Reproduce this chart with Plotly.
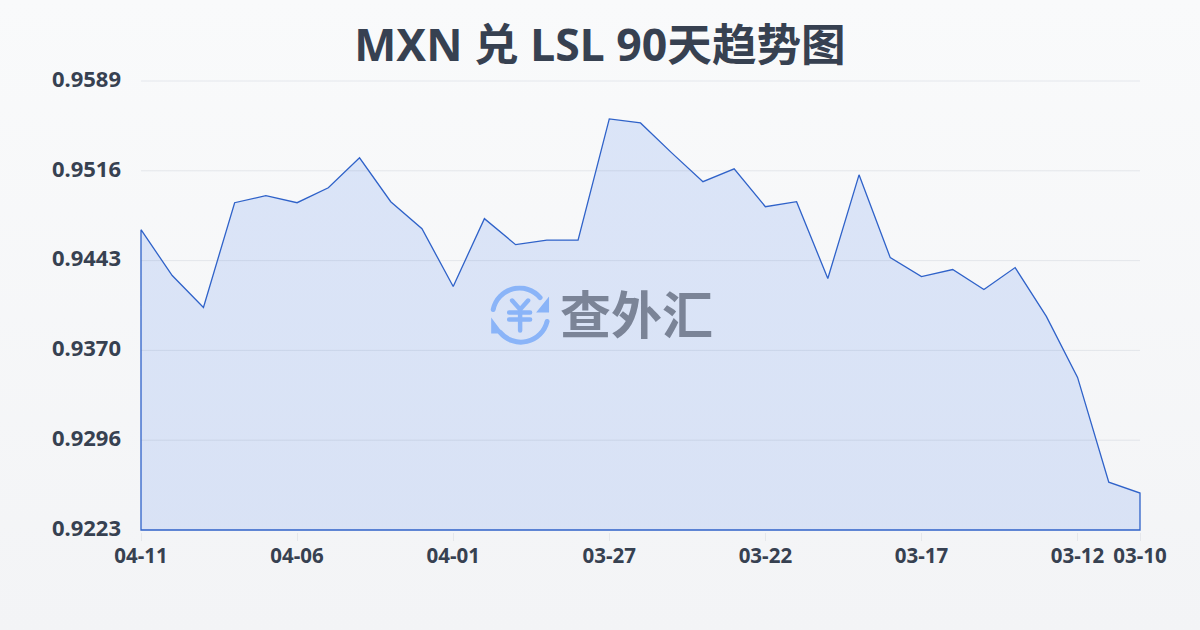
import plotly.graph_objects as go
import urllib.parse

dates = ["04-11","04-10","04-09","04-08","04-07","04-06","04-05","04-04","04-03","04-02","04-01",
         "03-31","03-30","03-29","03-28","03-27","03-26","03-25","03-24","03-23","03-22",
         "03-21","03-20","03-19","03-18","03-17","03-16","03-15","03-14","03-13","03-12","03-11","03-10"]
rates = [0.94678,0.94304,0.94044,0.94898,0.94955,0.94898,0.95020,0.95264,0.94906,0.94686,0.94215,
         0.94768,0.94556,0.94593,0.94593,0.95581,0.95548,0.95304,0.95069,0.95174,0.94865,
         0.94906,0.94280,0.95125,0.94450,0.94296,0.94353,0.94190,0.94369,0.93971,0.93474,0.92620,0.92531]
y_ticks = [0.9223,0.92962,0.93694,0.94426,0.95158,0.9589]
y_labels = ["0.9223","0.9296","0.9370","0.9443","0.9516","0.9589"]
x_labels = ["04-11","04-06","04-01","03-27","03-22","03-17","03-12","03-10"]
title = "MXN 兑 LSL 90天趋势图"
brand = "查外汇"

INK = "#374151"
FONT = "'Noto Sans','Noto Sans CJK SC',sans-serif"
CJK = "'Noto Sans CJK SC',sans-serif"

icon = """<svg xmlns='http://www.w3.org/2000/svg' viewBox='0 0 60 60' width='240' height='240'>
<g fill='none' stroke='#8ab4f8' stroke-width='5' stroke-linecap='round'>
<path d='M3 24 A27 27 0 0 1 50 12'/><path d='M57 36 A27 27 0 0 1 10 47'/>
<path d='M22 15 L30 24 L38 15 M30 24 V45 M19 27 H40 M19 34 H40' stroke-width='4.5'/></g>
<path d='M59 11 V27 H46 Z M1 32 V48 H13 Z' fill='#8ab4f8'/></svg>"""
icon_uri = "data:image/svg+xml," + urllib.parse.quote(icon)

PAD_X = 0.064     # 2 px of slack so the outline is not clipped at the plot edge
PAD_Y = 0.000163  # 2 px of slack

fig = go.Figure()
fig.add_trace(go.Scatter(
    x=list(range(len(dates))) + [len(dates) - 1, 0, 0],
    y=rates + [y_ticks[0], y_ticks[0], rates[0]],
    mode="lines", fill="toself", cliponaxis=False,
    line=dict(color="#2f62c9", width=1.3),
    fillgradient=dict(type="vertical",
                      colorscale=[[0, "rgba(212,223,245,0.85)"], [1, "rgba(214,225,247,0.85)"]]),
    hoverinfo="skip", showlegend=False,
))

fig.update_layout(
    width=1200, height=630,
    paper_bgcolor="rgba(0,0,0,0)", plot_bgcolor="rgba(0,0,0,0)",
    margin=dict(l=138.5, r=57.5, t=78.5, b=97.5),
    font=dict(family=FONT, color=INK),
    title=dict(text="<b>%s</b>" % title, x=0.5, xanchor="center", y=0.928, yanchor="middle",
               font=dict(size=44.6, color=INK, family=FONT)),
    xaxis=dict(range=[-PAD_X, len(dates) - 1 + PAD_X], tickmode="array",
               tickvals=[dates.index(d) for d in x_labels], ticktext=["<b>%s</b>" % d for d in x_labels],
               showgrid=False, zeroline=False, showline=False,
               ticks="outside", ticklen=8, tickcolor="#e5e7eb", tickwidth=1, ticklabelstandoff=-3,
               tickfont=dict(size=20.5, color=INK, family=FONT)),
    yaxis=dict(range=[y_ticks[0] - PAD_Y, y_ticks[-1] + PAD_Y], tickmode="array", tickvals=y_ticks,
               ticktext=["<b>%s</b>" % v for v in y_labels],
               showgrid=False, zeroline=False, showline=False,
               ticks="", ticklabelstandoff=17, ticklabelshift=-2,
               tickfont=dict(size=22, color=INK, family=FONT)),
    shapes=[dict(type="line", xref="x", x0=0, x1=len(dates) - 1, yref="y", y0=v, y1=v, layer="above",
                 line=dict(color="rgba(100,116,139,0.13)", width=1)) for v in y_ticks[1:]],
    images=[dict(source=icon_uri, xref="paper", yref="paper",
                 x=(519.5 - 138) / 1004, y=(532 - 315) / 454, xanchor="center", yanchor="middle",
                 sizex=60 / 1004, sizey=60 / 454, sizing="contain", layer="above")],
    annotations=[dict(text="<b>%s</b>" % brand, xref="paper", yref="paper",
                      x=(636 - 138) / 1004, y=(532 - 312) / 454, showarrow=False,
                      font=dict(size=51, color="#7b8497", family=CJK))],
)

post = """document.documentElement.style.height='100%';
document.body.style.margin='0';document.body.style.height='630px';document.body.style.overflow='hidden';
document.body.style.background='linear-gradient(180deg,#f9fafb 0%,#f3f4f6 100%)';"""
fig.write_html("out.html", post_script=post, config=dict(displayModeBar=False))
